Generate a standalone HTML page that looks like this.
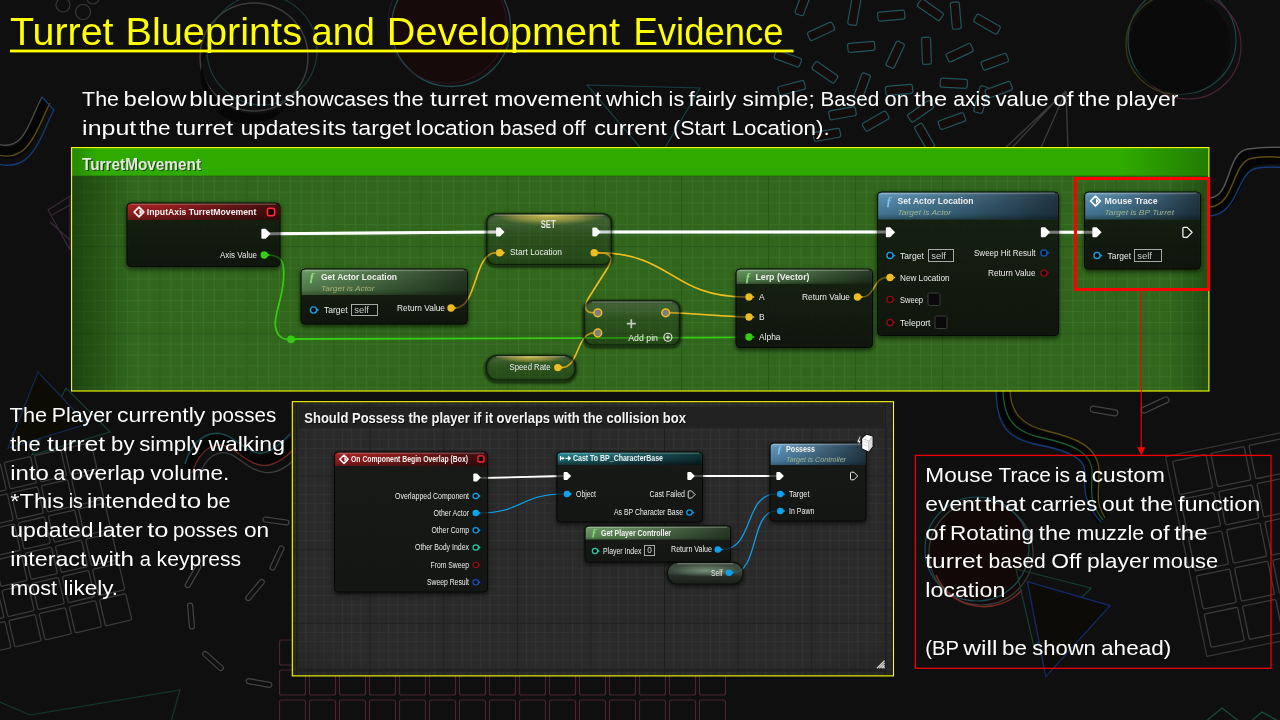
<!DOCTYPE html>
<html lang="en"><head><meta charset="utf-8"><title>Turret Blueprints and Development Evidence</title>
<style>html,body{margin:0;padding:0;background:#0f0f0f;overflow:hidden}svg{display:block;font-family:'Liberation Sans', sans-serif;opacity:0.999}</style>
</head><body>
<svg width="1280" height="720" viewBox="0 0 1280 720">
<defs>
<filter id="blur2" x="-20%" y="-20%" width="140%" height="140%"><feGaussianBlur stdDeviation="2"/></filter>
<filter id="blur1" x="-20%" y="-20%" width="140%" height="140%"><feGaussianBlur stdDeviation="0.8"/></filter>
<filter id="blur8" x="-20%" y="-20%" width="140%" height="140%"><feGaussianBlur stdDeviation="8"/></filter>
<pattern id="gridg" x="-14.44" y="158.96" width="10.867" height="10.867" patternUnits="userSpaceOnUse"><path d="M0.5,0 V10.867 M0,0.5 H10.867" stroke="#3a7128" stroke-width="1" fill="none"/></pattern>
<pattern id="gridG" x="-14.44" y="158.96" width="86.936" height="86.936" patternUnits="userSpaceOnUse"><path d="M0.5,0 V86.936 M0,0.5 H86.936" stroke="#29591a" stroke-width="1.3" fill="none"/></pattern>
<pattern id="gridd" x="296" y="402" width="9.2" height="9.2" patternUnits="userSpaceOnUse"><path d="M0.5,0 V9.2 M0,0.5 H9.2" stroke="#323232" stroke-width="1" fill="none"/></pattern>
<pattern id="gridD" x="296" y="402" width="73.6" height="73.6" patternUnits="userSpaceOnUse"><path d="M0.5,0 V73.6 M0,0.5 H73.6" stroke="#1e1e1e" stroke-width="1.2" fill="none"/></pattern>
<linearGradient id="hred" x1="0" y1="0" x2="0" y2="1"><stop offset="0" stop-color="#b02424" stop-opacity="1"/><stop offset="0.6" stop-color="#8e1b1d" stop-opacity="1"/><stop offset="1" stop-color="#6a1717" stop-opacity="0.95"/></linearGradient>
<linearGradient id="hred2" x1="0" y1="0" x2="0" y2="1"><stop offset="0" stop-color="#b02424" stop-opacity="1"/><stop offset="0.6" stop-color="#8e1b1d" stop-opacity="1"/><stop offset="1" stop-color="#6a1717" stop-opacity="0.95"/></linearGradient>
<linearGradient id="hgreen" x1="0" y1="0" x2="0" y2="1"><stop offset="0" stop-color="#86b47c" stop-opacity="0.97"/><stop offset="0.12" stop-color="#6a9a62" stop-opacity="0.95"/><stop offset="0.8" stop-color="#527e4c" stop-opacity="0.92"/><stop offset="1" stop-color="#3a5a32" stop-opacity="0.9"/></linearGradient>
<linearGradient id="hgreen2" x1="0" y1="0" x2="0" y2="1"><stop offset="0" stop-color="#86b47c" stop-opacity="0.97"/><stop offset="0.15" stop-color="#6a9862" stop-opacity="0.95"/><stop offset="0.8" stop-color="#4f7a49" stop-opacity="0.92"/><stop offset="1" stop-color="#36542f" stop-opacity="0.9"/></linearGradient>
<linearGradient id="hblue" x1="0" y1="0" x2="0" y2="1"><stop offset="0" stop-color="#7fb2d2" stop-opacity="0.97"/><stop offset="0.12" stop-color="#5f95b8" stop-opacity="0.96"/><stop offset="0.8" stop-color="#457a9a" stop-opacity="0.93"/><stop offset="1" stop-color="#2f5668" stop-opacity="0.9"/></linearGradient>
<linearGradient id="hblue2" x1="0" y1="0" x2="0" y2="1"><stop offset="0" stop-color="#7fb0d0" stop-opacity="0.97"/><stop offset="0.15" stop-color="#5e92b8" stop-opacity="0.96"/><stop offset="0.8" stop-color="#44769a" stop-opacity="0.93"/><stop offset="1" stop-color="#2c5068" stop-opacity="0.9"/></linearGradient>
<linearGradient id="hgreen3" x1="0" y1="0" x2="0" y2="1"><stop offset="0" stop-color="#8ab784" stop-opacity="1"/><stop offset="0.15" stop-color="#6f9a69" stop-opacity="1"/><stop offset="0.8" stop-color="#5a8455" stop-opacity="1"/><stop offset="1" stop-color="#466a42" stop-opacity="1"/></linearGradient>
<linearGradient id="hblue3" x1="0" y1="0" x2="0" y2="1"><stop offset="0" stop-color="#86b4d2" stop-opacity="1"/><stop offset="0.15" stop-color="#6396bb" stop-opacity="1"/><stop offset="0.8" stop-color="#4a7c9f" stop-opacity="1"/><stop offset="1" stop-color="#35607e" stop-opacity="1"/></linearGradient>
<linearGradient id="hteal" x1="0" y1="0" x2="0" y2="1"><stop offset="0" stop-color="#2b8f98" stop-opacity="1"/><stop offset="0.55" stop-color="#1d6a72" stop-opacity="1"/><stop offset="1" stop-color="#14383c" stop-opacity="0.9"/></linearGradient>
<linearGradient id="bodyg" x1="0" y1="0" x2="0" y2="1"><stop offset="0" stop-color="#151c14" stop-opacity="0.68"/><stop offset="1" stop-color="#0e100c" stop-opacity="0.82"/></linearGradient>
<linearGradient id="bodyd" x1="0" y1="0" x2="0" y2="1"><stop offset="0" stop-color="#171a17" stop-opacity="0.97"/><stop offset="1" stop-color="#141614" stop-opacity="0.97"/></linearGradient>
<linearGradient id="gloss" x1="0" y1="0" x2="0" y2="1"><stop offset="0" stop-color="#fff" stop-opacity="0.16"/><stop offset="0.45" stop-color="#fff" stop-opacity="0.03"/><stop offset="1" stop-color="#000" stop-opacity="0.08"/></linearGradient>
<linearGradient id="hfade" x1="0" y1="0" x2="1" y2="0"><stop offset="0" stop-color="#000" stop-opacity="0"/><stop offset="0.25" stop-color="#000" stop-opacity="0.12"/><stop offset="1" stop-color="#000" stop-opacity="0.62"/></linearGradient>
<linearGradient id="pillg" x1="0" y1="0" x2="0" y2="1"><stop offset="0" stop-color="#4f6f35" stop-opacity="0.95"/><stop offset="0.45" stop-color="#3d6228" stop-opacity="0.92"/><stop offset="1" stop-color="#2c4a1f" stop-opacity="0.95"/></linearGradient>
<linearGradient id="pilld" x1="0" y1="0" x2="0" y2="1"><stop offset="0" stop-color="#39433a" stop-opacity="1"/><stop offset="0.2" stop-color="#3f4c40" stop-opacity="1"/><stop offset="0.5" stop-color="#37433a" stop-opacity="1"/><stop offset="0.62" stop-color="#262d27" stop-opacity="1"/><stop offset="1" stop-color="#1a1f1a" stop-opacity="1"/></linearGradient>
<radialGradient id="glowy" cx="0.5" cy="0" r="0.5" gradientTransform="translate(0,0) scale(1,1)"><stop offset="0" stop-color="#e0cc54" stop-opacity="0.95"/><stop offset="0.6" stop-color="#d0ba48" stop-opacity="0.5"/><stop offset="1" stop-color="#c8b040" stop-opacity="0"/></radialGradient>
<radialGradient id="glowg" cx="0.5" cy="0" r="0.5"><stop offset="0" stop-color="#b8e0b0" stop-opacity="0.7"/><stop offset="1" stop-color="#b8e0b0" stop-opacity="0"/></radialGradient>
<radialGradient id="glowc" cx="0.5" cy="0.5" r="0.5"><stop offset="0" stop-color="#9fbf9c" stop-opacity="0.6"/><stop offset="0.6" stop-color="#8aa888" stop-opacity="0.3"/><stop offset="1" stop-color="#8aa888" stop-opacity="0"/></radialGradient>
<radialGradient id="vig" cx="0.5" cy="0.5" r="0.75"><stop offset="0.75" stop-color="#000" stop-opacity="0"/><stop offset="1" stop-color="#000" stop-opacity="0.35"/></radialGradient>
<linearGradient id="vigL" x1="0" y1="0" x2="1" y2="0"><stop offset="0" stop-color="#0a2a05" stop-opacity="0.55"/><stop offset="1" stop-color="#0a2a05" stop-opacity="0"/></linearGradient>
<linearGradient id="vigR" x1="0" y1="0" x2="1" y2="0"><stop offset="0" stop-color="#0a2a05" stop-opacity="0"/><stop offset="1" stop-color="#0a2a05" stop-opacity="0.45"/></linearGradient>
</defs>
<rect width="1280" height="720" fill="#0f0f0f"/>
<g id="decor" fill="none" stroke-width="1.2">
<circle cx="63" cy="5" r="7" stroke="#3a3a3a"/><circle cx="83" cy="12" r="7.5" stroke="#3a3a3a"/><circle cx="93" cy="-2" r="6" stroke="#333"/>
<circle cx="262" cy="50" r="55" stroke="#1b3a3a"/>
<circle cx="254" cy="57" r="54" stroke="#3c3c3c" stroke-width="1.5"/>
<path d="M204,45 A54,54 0 0 0 290,102 A48,48 0 0 1 209,48 z" fill="#060606" stroke="none"/>
<circle cx="451" cy="27" r="59.5" fill="#160a0a" stroke="#1d4d50" stroke-width="1.3"/>
<circle cx="447" cy="24" r="59.5" stroke="#2a1a2a" stroke-width="1"/>
<path d="M587,85 L700,88 L655,165 z" stroke="#164044"/>
<rect x="807.5" y="26.8" width="27" height="9" rx="2" transform="rotate(-25 821.0 31.2)" fill="#140b0b" stroke="#1f565c"/>
<rect x="840.7" y="7.2" width="27" height="9" rx="2" transform="rotate(-80 854.2 11.7)" fill="#140b0b" stroke="#1f565c"/>
<rect x="877.8" y="11.1" width="27" height="9" rx="2" transform="rotate(-5 891.3 15.6)" fill="#140b0b" stroke="#1f565c"/>
<rect x="916.9" y="5.3" width="27" height="9" rx="2" transform="rotate(35 930.4 9.8)" fill="#140b0b" stroke="#1f565c"/>
<rect x="942.3" y="11.1" width="27" height="9" rx="2" transform="rotate(85 955.8 15.6)" fill="#140b0b" stroke="#1f565c"/>
<rect x="973.5" y="19.7" width="27" height="9" rx="2" transform="rotate(30 987.0 24.2)" fill="#140b0b" stroke="#1f565c"/>
<rect x="847.8" y="42.4" width="27" height="9" rx="2" transform="rotate(-5 861.2 46.9)" fill="#140b0b" stroke="#1f565c"/>
<rect x="881.7" y="50.2" width="27" height="9" rx="2" transform="rotate(-65 895.2 54.7)" fill="#140b0b" stroke="#1f565c"/>
<rect x="913.0" y="46.3" width="27" height="9" rx="2" transform="rotate(88 926.5 50.8)" fill="#140b0b" stroke="#1f565c"/>
<rect x="946.2" y="48.2" width="27" height="9" rx="2" transform="rotate(-25 959.7 52.7)" fill="#140b0b" stroke="#1f565c"/>
<rect x="981.3" y="57.2" width="27" height="9" rx="2" transform="rotate(-20 994.8 61.7)" fill="#140b0b" stroke="#1f565c"/>
<rect x="811.4" y="67.8" width="27" height="9" rx="2" transform="rotate(35 824.9 72.3)" fill="#140b0b" stroke="#1f565c"/>
<rect x="848.5" y="82.2" width="27" height="9" rx="2" transform="rotate(-70 862.0 86.7)" fill="#140b0b" stroke="#1f565c"/>
<rect x="885.6" y="85.3" width="27" height="9" rx="2" transform="rotate(-5 899.1 89.8)" fill="#140b0b" stroke="#1f565c"/>
<rect x="940.3" y="78.7" width="27" height="9" rx="2" transform="rotate(3 953.8 83.2)" fill="#140b0b" stroke="#1f565c"/>
<rect x="778.2" y="83.4" width="27" height="9" rx="2" transform="rotate(-15 791.7 87.9)" fill="#140b0b" stroke="#1f565c"/>
<rect x="862.2" y="116.6" width="27" height="9" rx="2" transform="rotate(-30 875.7 121.1)" fill="#140b0b" stroke="#1f565c"/>
<rect x="907.1" y="106.8" width="27" height="9" rx="2" transform="rotate(-35 920.6 111.3)" fill="#140b0b" stroke="#1f565c"/>
<rect x="938.4" y="116.6" width="27" height="9" rx="2" transform="rotate(-20 951.9 121.1)" fill="#140b0b" stroke="#1f565c"/>
<rect x="967.7" y="95.1" width="27" height="9" rx="2" transform="rotate(-75 981.2 99.6)" fill="#140b0b" stroke="#1f565c"/>
<rect x="911.0" y="132.2" width="27" height="9" rx="2" transform="rotate(60 924.5 136.7)" fill="#140b0b" stroke="#1f565c"/>
<rect x="813.4" y="130.3" width="27" height="9" rx="2" transform="rotate(-10 826.9 134.8)" fill="#140b0b" stroke="#1f565c"/>
<rect x="789.9" y="-2.5" width="27" height="9" rx="2" transform="rotate(-70 803.4 2.0)" fill="#140b0b" stroke="#1f565c"/>
<rect x="774.3" y="54.1" width="27" height="9" rx="2" transform="rotate(20 787.8 58.6)" fill="#140b0b" stroke="#1f565c"/>
<rect x="985.2" y="85.3" width="27" height="9" rx="2" transform="rotate(-20 998.8 89.8)" fill="#140b0b" stroke="#1f565c"/>
<rect x="829.0" y="108.8" width="27" height="9" rx="2" transform="rotate(-10 842.5 113.3)" fill="#140b0b" stroke="#1f565c"/>
<path d="M1066,91 L1003,150 M1066,91 L1040,150 M1066,91 L1068,150 M1060,96 L1010,150" stroke="#3a3a3a" stroke-width="1.4"/>
<circle cx="1182" cy="40" r="54" stroke="#1b4a48"/><circle cx="1188" cy="46" r="53" stroke="#4a2236"/><circle cx="1176" cy="44" r="50" stroke="#3f3a12"/><circle cx="1180" cy="44" r="50" fill="#0a0a0a" stroke="none"/>
<path d="M1210,207 C1238,205 1232,160 1254,157 S1272,156 1284,155" stroke="#050505" stroke-width="17"/>
<path d="M1210,198 C1232,196 1226,152 1248,149 S1272,148 1284,147" stroke="#555" stroke-width="1.5"/>
<path d="M1210,207 C1236,205 1231,161 1253,158 S1272,158 1284,157" stroke="#5a4c12" stroke-width="1.5"/>
<path d="M1210,216 C1240,214 1236,170 1258,168 S1272,168 1284,167" stroke="#143a78" stroke-width="1.5"/>
<path d="M-5,150 C30,165 35,120 45,100" stroke="#050505" stroke-width="11"/>
<path d="M-5,143 C25,155 30,118 42,97" stroke="#4a4a4a" stroke-width="1.4"/><path d="M-5,154 C30,166 38,125 50,103" stroke="#5a4c12" stroke-width="1.4"/><path d="M-5,163 C35,176 42,130 54,110 L42,97" stroke="#143a78" stroke-width="1.4"/>
<path d="M48,210 L70,196 L70,250 z M52,215 L70,205 M50,222 L70,240" stroke="#3a2a3a"/>
<g transform="rotate(-13 60 540)" stroke="#3a3a3a" stroke-width="1.3">
<rect x="-70" y="452" width="27" height="27" rx="1.5"/>
<rect x="-39" y="452" width="27" height="27" rx="1.5"/>
<rect x="-8" y="452" width="27" height="27" rx="1.5"/>
<rect x="23" y="452" width="27" height="27" rx="1.5"/>
<rect x="54" y="452" width="27" height="27" rx="1.5"/>
<rect x="85" y="452" width="27" height="27" rx="1.5"/>
<rect x="-70" y="483" width="27" height="27" rx="1.5"/>
<rect x="-39" y="483" width="27" height="27" rx="1.5"/>
<rect x="-8" y="483" width="27" height="27" rx="1.5"/>
<rect x="23" y="483" width="27" height="27" rx="1.5"/>
<rect x="54" y="483" width="27" height="27" rx="1.5"/>
<rect x="85" y="483" width="27" height="27" rx="1.5"/>
<rect x="-70" y="514" width="27" height="27" rx="1.5"/>
<rect x="-39" y="514" width="27" height="27" rx="1.5"/>
<rect x="-8" y="514" width="27" height="27" rx="1.5"/>
<rect x="23" y="514" width="27" height="27" rx="1.5"/>
<rect x="54" y="514" width="27" height="27" rx="1.5"/>
<rect x="85" y="514" width="27" height="27" rx="1.5"/>
<rect x="-70" y="545" width="27" height="27" rx="1.5"/>
<rect x="-39" y="545" width="27" height="27" rx="1.5"/>
<rect x="-8" y="545" width="27" height="27" rx="1.5"/>
<rect x="23" y="545" width="27" height="27" rx="1.5"/>
<rect x="54" y="545" width="27" height="27" rx="1.5"/>
<rect x="85" y="545" width="27" height="27" rx="1.5"/>
<rect x="-70" y="576" width="27" height="27" rx="1.5"/>
<rect x="-39" y="576" width="27" height="27" rx="1.5"/>
<rect x="-8" y="576" width="27" height="27" rx="1.5"/>
<rect x="23" y="576" width="27" height="27" rx="1.5"/>
<rect x="54" y="576" width="27" height="27" rx="1.5"/>
<rect x="85" y="576" width="27" height="27" rx="1.5"/>
<rect x="-70" y="607" width="27" height="27" rx="1.5"/>
<rect x="-39" y="607" width="27" height="27" rx="1.5"/>
<rect x="-8" y="607" width="27" height="27" rx="1.5"/>
<rect x="23" y="607" width="27" height="27" rx="1.5"/>
<rect x="54" y="607" width="27" height="27" rx="1.5"/>
<rect x="85" y="607" width="27" height="27" rx="1.5"/>
</g>
<path d="M32,455 L66,388 L110,432 z" stroke="#15402e"/><path d="M8,448 L38,372 L87,424 z" stroke="#142a55" fill="#0c0c05"/>
<path d="M189,470 C196,445 214,432 234,446 S266,472 294,441" stroke="#060606" stroke-width="11"/>
<path d="M185,464 C192,439 212,425 233,439 S262,464 290,434" stroke="#174b50" stroke-width="1.4"/><path d="M192,473 C200,449 216,437 235,451 S268,477 297,446" stroke="#6a2620" stroke-width="1.4"/><path d="M197,480 C205,457 219,445 237,458 S272,485 300,454" stroke="#3c3c3c" stroke-width="1.3"/>
<rect x="263" y="518.5" width="26" height="5" rx="2.5" transform="rotate(8 276 521)" stroke="#444"/>
<rect x="264" y="555.5" width="26" height="5" rx="2.5" transform="rotate(-65 277 558)" stroke="#444"/>
<rect x="180" y="573.5" width="26" height="5" rx="2.5" transform="rotate(-60 193 576)" stroke="#444"/>
<rect x="178" y="613.5" width="26" height="5" rx="2.5" transform="rotate(85 191 616)" stroke="#444"/>
<rect x="200" y="658.5" width="26" height="5" rx="2.5" transform="rotate(42 213 661)" stroke="#444"/>
<rect x="246" y="680.5" width="26" height="5" rx="2.5" transform="rotate(10 259 683)" stroke="#444"/>
<rect x="242" y="587.5" width="26" height="5" rx="2.5" transform="rotate(-50 255 590)" stroke="#444"/>
<g stroke="#4a2430" stroke-width="1.2">
<rect x="279.5" y="640" width="26" height="25" rx="2"/>
<rect x="309.5" y="640" width="26" height="25" rx="2"/>
<rect x="339.5" y="640" width="26" height="25" rx="2"/>
<rect x="369.5" y="640" width="26" height="25" rx="2"/>
<rect x="399.5" y="640" width="26" height="25" rx="2"/>
<rect x="429.5" y="640" width="26" height="25" rx="2"/>
<rect x="459.5" y="640" width="26" height="25" rx="2"/>
<rect x="489.5" y="640" width="26" height="25" rx="2"/>
<rect x="519.5" y="640" width="26" height="25" rx="2"/>
<rect x="549.5" y="640" width="26" height="25" rx="2"/>
<rect x="579.5" y="640" width="26" height="25" rx="2"/>
<rect x="609.5" y="640" width="26" height="25" rx="2"/>
<rect x="639.5" y="640" width="26" height="25" rx="2"/>
<rect x="669.5" y="640" width="26" height="25" rx="2"/>
<rect x="699.5" y="640" width="26" height="25" rx="2"/>
<rect x="279.5" y="670" width="26" height="25" rx="2"/>
<rect x="309.5" y="670" width="26" height="25" rx="2"/>
<rect x="339.5" y="670" width="26" height="25" rx="2"/>
<rect x="369.5" y="670" width="26" height="25" rx="2"/>
<rect x="399.5" y="670" width="26" height="25" rx="2"/>
<rect x="429.5" y="670" width="26" height="25" rx="2"/>
<rect x="459.5" y="670" width="26" height="25" rx="2"/>
<rect x="489.5" y="670" width="26" height="25" rx="2"/>
<rect x="519.5" y="670" width="26" height="25" rx="2"/>
<rect x="549.5" y="670" width="26" height="25" rx="2"/>
<rect x="579.5" y="670" width="26" height="25" rx="2"/>
<rect x="609.5" y="670" width="26" height="25" rx="2"/>
<rect x="639.5" y="670" width="26" height="25" rx="2"/>
<rect x="669.5" y="670" width="26" height="25" rx="2"/>
<rect x="699.5" y="670" width="26" height="25" rx="2"/>
<rect x="279.5" y="700" width="26" height="25" rx="2"/>
<rect x="309.5" y="700" width="26" height="25" rx="2"/>
<rect x="339.5" y="700" width="26" height="25" rx="2"/>
<rect x="369.5" y="700" width="26" height="25" rx="2"/>
<rect x="399.5" y="700" width="26" height="25" rx="2"/>
<rect x="429.5" y="700" width="26" height="25" rx="2"/>
<rect x="459.5" y="700" width="26" height="25" rx="2"/>
<rect x="489.5" y="700" width="26" height="25" rx="2"/>
<rect x="519.5" y="700" width="26" height="25" rx="2"/>
<rect x="549.5" y="700" width="26" height="25" rx="2"/>
<rect x="579.5" y="700" width="26" height="25" rx="2"/>
<rect x="609.5" y="700" width="26" height="25" rx="2"/>
<rect x="639.5" y="700" width="26" height="25" rx="2"/>
<rect x="669.5" y="700" width="26" height="25" rx="2"/>
<rect x="699.5" y="700" width="26" height="25" rx="2"/>
</g>
<path d="M-5,700 L30,715 L180,690 L170,725" stroke="#123a2c"/>
<circle cx="981" cy="553" r="52" fill="#120808" stroke="#3a3a3a"/><circle cx="977" cy="549" r="52" stroke="#174b50"/><path d="M936,575 A52,52 0 0 0 1022,590" stroke="#7a2a22" stroke-width="1.5"/>
<path d="M1016,569 L1091,588 L1034,647 z" stroke="#15402e"/>
<path d="M1027.4,581.7 L1110,605.6 L1045.8,676.7 z" fill="#0c0b05" stroke="#152a6a" stroke-width="1.3"/>
<path d="M1003,388 C1003,420 1015,432 1043,438 S1092,452 1092,472 S1088,500 1103,520" stroke="#050505" stroke-width="13"/>
<path d="M996,388 C996,427 1008,439 1039,445 S1085,459 1085,472 S1081,500 1101,522" stroke="#143a78" stroke-width="1.3"/>
<path d="M1003,388 C1003,420 1015,432 1043,438 S1092,452 1092,472 S1088,500 1103,520" stroke="#1d5a30" stroke-width="1.3"/>
<path d="M1010,388 C1010,413 1022,425 1047,431 S1099,445 1099,472 S1095,500 1105,518" stroke="#5a4c12" stroke-width="1.3"/>
<g transform="rotate(-11.7 1169 459)" stroke="#3a3a3a" stroke-width="1.3">
<rect x="1172" y="462" width="34" height="34" rx="1.5"/>
<rect x="1211" y="462" width="34" height="34" rx="1.5"/>
<rect x="1250" y="462" width="34" height="34" rx="1.5"/>
<rect x="1289" y="462" width="34" height="34" rx="1.5"/>
<rect x="1328" y="462" width="34" height="34" rx="1.5"/>
<rect x="1172" y="501" width="34" height="34" rx="1.5"/>
<rect x="1211" y="501" width="34" height="34" rx="1.5"/>
<rect x="1250" y="501" width="34" height="34" rx="1.5"/>
<rect x="1289" y="501" width="34" height="34" rx="1.5"/>
<rect x="1328" y="501" width="34" height="34" rx="1.5"/>
<rect x="1172" y="540" width="34" height="34" rx="1.5"/>
<rect x="1211" y="540" width="34" height="34" rx="1.5"/>
<rect x="1250" y="540" width="34" height="34" rx="1.5"/>
<rect x="1289" y="540" width="34" height="34" rx="1.5"/>
<rect x="1328" y="540" width="34" height="34" rx="1.5"/>
<rect x="1172" y="579" width="34" height="34" rx="1.5"/>
<rect x="1211" y="579" width="34" height="34" rx="1.5"/>
<rect x="1250" y="579" width="34" height="34" rx="1.5"/>
<rect x="1289" y="579" width="34" height="34" rx="1.5"/>
<rect x="1328" y="579" width="34" height="34" rx="1.5"/>
<rect x="1172" y="618" width="34" height="34" rx="1.5"/>
<rect x="1211" y="618" width="34" height="34" rx="1.5"/>
<rect x="1250" y="618" width="34" height="34" rx="1.5"/>
<rect x="1289" y="618" width="34" height="34" rx="1.5"/>
<rect x="1328" y="618" width="34" height="34" rx="1.5"/>
<path d="M1166,456 H1340 M1166,456 V660 H1340" stroke="#333"/>
</g>
<rect x="1090" y="408" width="28" height="6" rx="3" transform="rotate(10 1104 411)" stroke="#444"/><rect x="1140" y="402" width="30" height="6" rx="3" transform="rotate(-25 1155 405)" stroke="#444"/>
<path d="M1205,722 L1222,708 L1240,722 M1250,722 L1262,712 L1280,722" stroke="#14503c"/>
</g>
<g id="title">
<text y="45.2" font-size="38.5" fill="#ffff00"><tspan x="10.0" textLength="103.5" lengthAdjust="spacingAndGlyphs">Turret</tspan> <tspan x="125.5" textLength="176.5" lengthAdjust="spacingAndGlyphs">Blueprints</tspan> <tspan x="311.5" textLength="63.5" lengthAdjust="spacingAndGlyphs">and</tspan> <tspan x="386.8" textLength="233.2" lengthAdjust="spacingAndGlyphs">Development</tspan> <tspan x="633.5" textLength="150.0" lengthAdjust="spacingAndGlyphs">Evidence</tspan></text>
<rect x="10" y="49.6" width="783.5" height="2.8" fill="#ffff00"/>
</g>
<g id="intro">
<text y="106.3" font-size="19.3" fill="#fff"><tspan x="82.1" textLength="36.9" lengthAdjust="spacingAndGlyphs">The</tspan> <tspan x="123.6" textLength="62.6" lengthAdjust="spacingAndGlyphs">below</tspan> <tspan x="189.2" textLength="92.3" lengthAdjust="spacingAndGlyphs">blueprint</tspan> <tspan x="284.6" textLength="104.1" lengthAdjust="spacingAndGlyphs">showcases</tspan> <tspan x="393.3" textLength="30.4" lengthAdjust="spacingAndGlyphs">the</tspan> <tspan x="430.0" textLength="58.0" lengthAdjust="spacingAndGlyphs">turret</tspan> <tspan x="494.2" textLength="107.2" lengthAdjust="spacingAndGlyphs">movement</tspan> <tspan x="606.1" textLength="56.9" lengthAdjust="spacingAndGlyphs">which</tspan> <tspan x="668.6" textLength="15.6" lengthAdjust="spacingAndGlyphs">is</tspan> <tspan x="688.6" textLength="47.8" lengthAdjust="spacingAndGlyphs">fairly</tspan> <tspan x="742.6" textLength="72.2" lengthAdjust="spacingAndGlyphs">simple;</tspan> <tspan x="820.5" textLength="58.7" lengthAdjust="spacingAndGlyphs">Based</tspan> <tspan x="884.5" textLength="24.4" lengthAdjust="spacingAndGlyphs">on</tspan> <tspan x="914.2" textLength="32.9" lengthAdjust="spacingAndGlyphs">the</tspan> <tspan x="953.2" textLength="37.6" lengthAdjust="spacingAndGlyphs">axis</tspan> <tspan x="995.5" textLength="53.1" lengthAdjust="spacingAndGlyphs">value</tspan> <tspan x="1053.2" textLength="20.4" lengthAdjust="spacingAndGlyphs">of</tspan> <tspan x="1078.2" textLength="32.0" lengthAdjust="spacingAndGlyphs">the</tspan> <tspan x="1115.8" textLength="62.5" lengthAdjust="spacingAndGlyphs">player</tspan></text>
<text y="135.0" font-size="19.3" fill="#fff"><tspan x="82.1" textLength="54.1" lengthAdjust="spacingAndGlyphs">input</tspan> <tspan x="139.2" textLength="31.4" lengthAdjust="spacingAndGlyphs">the</tspan> <tspan x="175.8" textLength="57.3" lengthAdjust="spacingAndGlyphs">turret</tspan> <tspan x="240.8" textLength="79.8" lengthAdjust="spacingAndGlyphs">updates</tspan> <tspan x="322.1" textLength="24.1" lengthAdjust="spacingAndGlyphs">its</tspan> <tspan x="351.8" textLength="59.4" lengthAdjust="spacingAndGlyphs">target</tspan> <tspan x="415.8" textLength="79.0" lengthAdjust="spacingAndGlyphs">location</tspan> <tspan x="499.8" textLength="57.0" lengthAdjust="spacingAndGlyphs">based</tspan> <tspan x="562.2" textLength="23.6" lengthAdjust="spacingAndGlyphs">off</tspan> <tspan x="594.2" textLength="72.6" lengthAdjust="spacingAndGlyphs">current</tspan> <tspan x="673.0" textLength="52.5" lengthAdjust="spacingAndGlyphs">(Start</tspan> <tspan x="731.7" textLength="97.9" lengthAdjust="spacingAndGlyphs">Location).</tspan></text>
</g>
<g id="bp1">
<rect x="71.5" y="147.5" width="1137.5" height="243.5" fill="#31661c"/>
<rect x="72" y="176" width="1136.5" height="215" fill="url(#gridg)"/>
<rect x="72" y="176" width="1136.5" height="215" fill="url(#gridG)"/>
<rect x="72" y="176" width="60" height="215" fill="url(#vigL)"/>
<rect x="1170" y="176" width="38.5" height="215" fill="url(#vigR)" opacity="0.8"/>
<rect x="72" y="148" width="1136.5" height="28" fill="#2fab00"/>
<rect x="1120" y="148" width="88.5" height="28" fill="url(#vigR)" opacity="0.8"/>
<rect x="72" y="148" width="25" height="28" fill="url(#vigL)" opacity="0.5"/>
<rect x="72" y="175" width="1136.5" height="2" fill="#1f5a0c" opacity="0.35"/>
<text x="83.2" y="171.2" font-size="17" font-weight="bold" textLength="119.0" lengthAdjust="spacingAndGlyphs" fill="#0b2a00" opacity="0.7">TurretMovement</text>
<text x="82.0" y="170.0" font-size="17" font-weight="bold" textLength="119.0" lengthAdjust="spacingAndGlyphs" fill="#e6e6e6">TurretMovement</text>
<path d="M270,233.8 L498,232.1" fill="none" stroke="#fff" stroke-width="3" stroke-linecap="round"/>
<path d="M600,232.1 H888" fill="none" stroke="#fff" stroke-width="3" stroke-linecap="round"/>
<path d="M1049,232.3 H1094" fill="none" stroke="#fff" stroke-width="3" stroke-linecap="round"/>
<path d="M268,255 C284,255 284.5,266 283.5,280 C282,300 273.5,316 275.5,327 C277.5,338 284,339.5 291,339.5" fill="none" stroke="#36cc14" stroke-width="1.6" stroke-linecap="round"/>
<path d="M291,339 C400,338.6 600,338.2 745,337.4" fill="none" stroke="#36cc14" stroke-width="1.8"/>
<path d="M455.0,308.0 C477.6,308.0 473.4,252.8 496.0,252.8" fill="none" stroke="#edbd22" stroke-width="1.5" stroke-linecap="round"/>
<path d="M598.0,252.8 C671.5,252.8 671.5,297.0 745.0,297.0" fill="none" stroke="#edbd22" stroke-width="1.6" stroke-linecap="round"/>
<path d="M598,252.8 C616,252.8 611.5,262 606,270.5 L589.5,296.5 C582.5,307.5 585,312.8 594,312.8" fill="none" stroke="#edbd22" stroke-width="1.5" stroke-linecap="round"/>
<path d="M561.5,367.6 C579.4,367.6 576.1,333.0 594.0,333.0" fill="none" stroke="#edbd22" stroke-width="1.5" stroke-linecap="round"/>
<path d="M670,312.8 C700,313.5 720,316.5 745,317" fill="none" stroke="#edbd22" stroke-width="1.6" stroke-linecap="round"/>
<path d="M861.5,297.0 C875.5,297.0 873.0,277.5 887.0,277.5" fill="none" stroke="#edbd22" stroke-width="1.5" stroke-linecap="round"/>
<rect x="126.0" y="203.5" width="155.0" height="66.0" rx="5" fill="#000" opacity="0.55" filter="url(#blur2)"/>
<rect x="127.0" y="203.0" width="153.0" height="63.5" rx="4" fill="url(#bodyg)" stroke="#050805" stroke-width="1"/>
<path d="M127.7,220.0 V207.0 q0,-3.3 3.3,-3.3 H276.0 q3.3,0 3.3,3.3 V220.0 z" fill="url(#hred)"/>
<path d="M127.7,220.0 V207.0 q0,-3.3 3.3,-3.3 H276.0 q3.3,0 3.3,3.3 V220.0 z" fill="url(#hfade)"/>
<path d="M131.0,204.2 H276.0" stroke="#fff" stroke-opacity="0.28" stroke-width="1"/>
<rect x="300.0" y="269.5" width="168.5" height="57.5" rx="5" fill="#000" opacity="0.55" filter="url(#blur2)"/>
<rect x="301.0" y="269.0" width="166.5" height="55.0" rx="4" fill="url(#bodyg)" stroke="#050805" stroke-width="1"/>
<path d="M301.7,295.0 V273.0 q0,-3.3 3.3,-3.3 H463.5 q3.3,0 3.3,3.3 V295.0 z" fill="url(#hgreen)"/>
<path d="M301.7,295.0 V273.0 q0,-3.3 3.3,-3.3 H463.5 q3.3,0 3.3,3.3 V295.0 z" fill="url(#hfade)"/>
<path d="M305.0,270.2 H463.5" stroke="#fff" stroke-opacity="0.28" stroke-width="1"/>
<rect x="486.3" y="214.4" width="125.6" height="52.2" rx="9.0" fill="none" stroke="#000" stroke-opacity="0.6" stroke-width="3" filter="url(#blur1)"/>
<rect x="486.8" y="213.9" width="124.6" height="50.7" rx="8.5" fill="#000" fill-opacity="0.28" stroke="#0d1f08" stroke-width="1.1"/>
<rect x="487.4" y="214.5" width="123.4" height="49.5" rx="8.0" fill="url(#gloss)"/>
<rect x="494.0" y="214.7" width="110.0" height="22" fill="url(#glowy)"/>
<path d="M494.3,215.1 H603.9" stroke="#fff" stroke-opacity="0.32" stroke-width="1"/>
<rect x="485.8" y="356.0" width="89.9" height="26.0" rx="11.5" fill="none" stroke="#000" stroke-opacity="0.6" stroke-width="3" filter="url(#blur1)"/>
<rect x="486.3" y="355.5" width="88.9" height="24.5" rx="11" fill="#000" fill-opacity="0.25" stroke="#0d1f08" stroke-width="1.1"/>
<rect x="486.9" y="356.1" width="87.7" height="23.3" rx="10.5" fill="url(#gloss)"/>
<rect x="494.0" y="356.3" width="73.0" height="13" fill="url(#glowy)"/>
<path d="M496.3,356.7 H565.2" stroke="#fff" stroke-opacity="0.32" stroke-width="1"/>
<rect x="583.7" y="301.3" width="96.6" height="45.7" rx="9.0" fill="none" stroke="#000" stroke-opacity="0.6" stroke-width="3" filter="url(#blur1)"/>
<rect x="584.2" y="300.8" width="95.6" height="44.2" rx="8.5" fill="#000" fill-opacity="0.27" stroke="#0d1f08" stroke-width="1.1"/>
<rect x="584.8" y="301.4" width="94.4" height="43.0" rx="8.0" fill="url(#gloss)"/>
<path d="M591.7,302.0 H672.3" stroke="#fff" stroke-opacity="0.32" stroke-width="1"/>
<rect x="735.0" y="269.5" width="138.5" height="81.0" rx="5" fill="#000" opacity="0.55" filter="url(#blur2)"/>
<rect x="736.0" y="269.0" width="136.5" height="78.5" rx="4" fill="url(#bodyg)" stroke="#050805" stroke-width="1"/>
<path d="M736.7,284.0 V273.0 q0,-3.3 3.3,-3.3 H868.5 q3.3,0 3.3,3.3 V284.0 z" fill="url(#hgreen2)"/>
<path d="M736.7,284.0 V273.0 q0,-3.3 3.3,-3.3 H868.5 q3.3,0 3.3,3.3 V284.0 z" fill="url(#hfade)"/>
<path d="M740.0,270.2 H868.5" stroke="#fff" stroke-opacity="0.28" stroke-width="1"/>
<rect x="876.5" y="192.5" width="183.0" height="146.0" rx="5" fill="#000" opacity="0.55" filter="url(#blur2)"/>
<rect x="877.5" y="192.0" width="181.0" height="143.5" rx="4" fill="url(#bodyg)" stroke="#050805" stroke-width="1"/>
<path d="M878.2,219.5 V196.0 q0,-3.3 3.3,-3.3 H1054.5 q3.3,0 3.3,3.3 V219.5 z" fill="url(#hblue)"/>
<path d="M878.2,219.5 V196.0 q0,-3.3 3.3,-3.3 H1054.5 q3.3,0 3.3,3.3 V219.5 z" fill="url(#hfade)"/>
<path d="M881.5,193.2 H1054.5" stroke="#fff" stroke-opacity="0.28" stroke-width="1"/>
<rect x="1083.5" y="192.5" width="118.0" height="79.5" rx="5" fill="#000" opacity="0.55" filter="url(#blur2)"/>
<rect x="1084.5" y="192.0" width="116.0" height="77.0" rx="4" fill="url(#bodyg)" stroke="#050805" stroke-width="1"/>
<path d="M1085.2,219.5 V196.0 q0,-3.3 3.3,-3.3 H1196.5 q3.3,0 3.3,3.3 V219.5 z" fill="url(#hblue)"/>
<path d="M1085.2,219.5 V196.0 q0,-3.3 3.3,-3.3 H1196.5 q3.3,0 3.3,3.3 V219.5 z" fill="url(#hfade)"/>
<path d="M1088.5,193.2 H1196.5" stroke="#fff" stroke-opacity="0.28" stroke-width="1"/>
<path d="M270,233.8 L498,232.1" fill="none" stroke="#fff" stroke-opacity="0.35" stroke-width="3" stroke-linecap="round"/>
<path d="M600,232.1 H888" fill="none" stroke="#fff" stroke-opacity="0.35" stroke-width="3" stroke-linecap="round"/>
<path d="M1049,232.3 H1094" fill="none" stroke="#fff" stroke-opacity="0.35" stroke-width="3" stroke-linecap="round"/>
<path d="M268,255 C284,255 284.5,266 283.5,280 C282,300 273.5,316 275.5,327 C277.5,338 284,339.5 291,339.5" fill="none" stroke="#36cc14" stroke-opacity="0.35" stroke-width="1.6" stroke-linecap="round"/>
<path d="M455.0,308.0 C477.6,308.0 473.4,252.8 496.0,252.8" fill="none" stroke="#edbd22" stroke-opacity="0.35" stroke-width="1.5" stroke-linecap="round"/>
<path d="M598.0,252.8 C671.5,252.8 671.5,297.0 745.0,297.0" fill="none" stroke="#edbd22" stroke-opacity="0.35" stroke-width="1.6" stroke-linecap="round"/>
<path d="M598,252.8 C616,252.8 611.5,262 606,270.5 L589.5,296.5 C582.5,307.5 585,312.8 594,312.8" fill="none" stroke="#edbd22" stroke-opacity="0.35" stroke-width="1.5" stroke-linecap="round"/>
<path d="M561.5,367.6 C579.4,367.6 576.1,333.0 594.0,333.0" fill="none" stroke="#edbd22" stroke-opacity="0.35" stroke-width="1.5" stroke-linecap="round"/>
<path d="M670,312.8 C700,313.5 720,316.5 745,317" fill="none" stroke="#edbd22" stroke-opacity="0.35" stroke-width="1.6" stroke-linecap="round"/>
<path d="M861.5,297.0 C875.5,297.0 873.0,277.5 887.0,277.5" fill="none" stroke="#edbd22" stroke-opacity="0.35" stroke-width="1.5" stroke-linecap="round"/>
<circle cx="291" cy="339.3" r="3.9" fill="#36cc14"/>
<path d="M294,337.4 l3,1.9 l-3,1.9z" fill="#36cc14"/>
<path d="M134.1,212.0 L139.0,207.1 L143.9,212.0 L139.0,216.9 z" fill="none" stroke="#fff" stroke-width="1.70" stroke-linejoin="round"/>
<path d="M139.5,209.4 L142.4,212.0 L139.5,214.6 z" fill="#fff"/>
<text x="146.8" y="215.3" font-size="9.5" font-weight="bold" textLength="109.5" lengthAdjust="spacingAndGlyphs" fill="#f2f2f2">InputAxis TurretMovement</text>
<rect x="267.4" y="208.4" width="7.2" height="7.2" rx="1.5" fill="#120000" stroke="#ff2b3a" stroke-width="1.60"/>
<path d="M261.4,229.8 q0,-1 1,-1 h3.2 l5.0,5.0 l-5.0,5.0 h-3.2 q-1,0 -1,-1 z" fill="#fff"/>
<text x="257.0" y="258.0" font-size="8.4" text-anchor="end" textLength="37.0" lengthAdjust="spacingAndGlyphs" fill="#eee">Axis Value</text>
<path d="M267.6,253.4 l2.3,1.6 l-2.3,1.6 z" fill="#36cc14"/>
<circle cx="264.3" cy="255.0" r="3.7" fill="#36cc14"/>
<text x="312.0" y="280.6" font-size="12" font-style="italic" font-weight="bold" font-family="'Liberation Serif', serif" text-anchor="middle" fill="#8fe07a">ƒ</text>
<text x="321.0" y="279.6" font-size="9.5" font-weight="bold" textLength="76.0" lengthAdjust="spacingAndGlyphs" fill="#f0f0f0">Get Actor Location</text>
<text x="321.0" y="291.3" font-size="7.7" font-style="italic" textLength="53.5" lengthAdjust="spacingAndGlyphs" fill="#a9b072">Target is Actor</text>
<path d="M316.8,308.4 l2.3,1.6 l-2.3,1.6 z" fill="#1b9fe0"/>
<circle cx="313.5" cy="310.0" r="3.1" fill="#0c0c0c" stroke="#1b9fe0" stroke-width="1.40"/>
<text x="324.0" y="313.0" font-size="8.4" textLength="23.5" lengthAdjust="spacingAndGlyphs" fill="#eee">Target</text>
<rect x="351.5" y="304.5" width="26.0" height="11.0" fill="#0e120e" fill-opacity="0.5" stroke="#a8a8a8" stroke-width="1"/>
<text x="354.2" y="312.8" font-size="9.5" fill="#c8c8c8">self</text>
<text x="445.0" y="311.0" font-size="8.4" text-anchor="end" textLength="48.0" lengthAdjust="spacingAndGlyphs" fill="#eee">Return Value</text>
<path d="M454.3,306.4 l2.3,1.6 l-2.3,1.6 z" fill="#edbd22"/>
<circle cx="451.0" cy="308.0" r="3.7" fill="#edbd22"/>
<text x="548.2" y="227.8" font-size="10" font-weight="bold" text-anchor="middle" textLength="15.0" lengthAdjust="spacingAndGlyphs" fill="#e4e4dc">SET</text>
<path d="M496.1,228.6 q0,-1 1,-1 h2.9 l4.5,4.5 l-4.5,4.5 h-2.9 q-1,0 -1,-1 z" fill="#fff"/>
<path d="M592.4,228.6 q0,-1 1,-1 h2.9 l4.5,4.5 l-4.5,4.5 h-2.9 q-1,0 -1,-1 z" fill="#fff"/>
<path d="M502.9,251.2 l2.3,1.6 l-2.3,1.6 z" fill="#edbd22"/>
<circle cx="499.6" cy="252.8" r="3.7" fill="#edbd22"/>
<text x="510.0" y="255.0" font-size="8.3" textLength="52.0" lengthAdjust="spacingAndGlyphs" fill="#eee">Start Location</text>
<path d="M597.5,251.2 l2.3,1.6 l-2.3,1.6 z" fill="#edbd22"/>
<circle cx="594.2" cy="252.8" r="3.7" fill="#edbd22"/>
<text x="550.5" y="370.2" font-size="8.3" text-anchor="end" textLength="41.0" lengthAdjust="spacingAndGlyphs" fill="#eee">Speed Rate</text>
<path d="M561.1,366.0 l2.3,1.6 l-2.3,1.6 z" fill="#edbd22"/>
<circle cx="557.8" cy="367.6" r="3.7" fill="#edbd22"/>
<circle cx="597.8" cy="312.8" r="3.9" fill="#807c80" stroke="#edbd22" stroke-width="1.5"/>
<circle cx="597.8" cy="333" r="3.9" fill="#807c80" stroke="#edbd22" stroke-width="1.5"/>
<circle cx="665.7" cy="312.8" r="3.9" fill="#807c80" stroke="#edbd22" stroke-width="1.5"/>
<path d="M626.8,323.7 H635.8 M631.3,319.2 V328.2" stroke="#c4ccbc" stroke-width="1.7"/>
<text x="628.2" y="340.5" font-size="9" textLength="29.8" lengthAdjust="spacingAndGlyphs" fill="#eee">Add pin</text>
<circle cx="667.9" cy="337.2" r="4" fill="none" stroke="#eee" stroke-width="1.1"/><path d="M665.9,337.2 h4 M667.9,335.2 v4" stroke="#eee" stroke-width="1.1"/>
<text x="748.0" y="280.6" font-size="12" font-style="italic" font-weight="bold" font-family="'Liberation Serif', serif" text-anchor="middle" fill="#8fe07a">ƒ</text>
<text x="755.5" y="279.6" font-size="9.5" font-weight="bold" textLength="54.0" lengthAdjust="spacingAndGlyphs" fill="#f0f0f0">Lerp (Vector)</text>
<path d="M752.3,295.4 l2.3,1.6 l-2.3,1.6 z" fill="#edbd22"/>
<circle cx="749.0" cy="297.0" r="3.7" fill="#edbd22"/>
<text x="759.0" y="300.0" font-size="8.4" fill="#eee">A</text>
<path d="M752.3,315.4 l2.3,1.6 l-2.3,1.6 z" fill="#edbd22"/>
<circle cx="749.0" cy="317.0" r="3.7" fill="#edbd22"/>
<text x="759.0" y="320.0" font-size="8.4" fill="#eee">B</text>
<path d="M752.3,335.4 l2.3,1.6 l-2.3,1.6 z" fill="#36cc14"/>
<circle cx="749.0" cy="337.0" r="3.7" fill="#36cc14"/>
<text x="759.0" y="340.0" font-size="8.4" textLength="21.5" lengthAdjust="spacingAndGlyphs" fill="#eee">Alpha</text>
<text x="850.0" y="300.0" font-size="8.4" text-anchor="end" textLength="48.0" lengthAdjust="spacingAndGlyphs" fill="#eee">Return Value</text>
<path d="M860.8,295.4 l2.3,1.6 l-2.3,1.6 z" fill="#edbd22"/>
<circle cx="857.5" cy="297.0" r="3.7" fill="#edbd22"/>
<text x="889.0" y="204.6" font-size="12" font-style="italic" font-weight="bold" font-family="'Liberation Serif', serif" text-anchor="middle" fill="#7cc4f0">ƒ</text>
<text x="897.5" y="203.6" font-size="9.5" font-weight="bold" textLength="76.0" lengthAdjust="spacingAndGlyphs" fill="#f0f0f0">Set Actor Location</text>
<text x="897.5" y="215.3" font-size="7.7" font-style="italic" textLength="53.5" lengthAdjust="spacingAndGlyphs" fill="#9fb38a">Target is Actor</text>
<path d="M885.9,228.3 q0,-1 1,-1 h3.2 l5.0,5.0 l-5.0,5.0 h-3.2 q-1,0 -1,-1 z" fill="#fff"/>
<path d="M1040.9,228.3 q0,-1 1,-1 h3.2 l5.0,5.0 l-5.0,5.0 h-3.2 q-1,0 -1,-1 z" fill="#fff"/>
<path d="M893.3,253.9 l2.3,1.6 l-2.3,1.6 z" fill="#1b9fe0"/>
<circle cx="890.0" cy="255.5" r="3.1" fill="#0c0c0c" stroke="#1b9fe0" stroke-width="1.40"/>
<text x="900.0" y="258.5" font-size="8.4" textLength="23.8" lengthAdjust="spacingAndGlyphs" fill="#eee">Target</text>
<rect x="928.5" y="249.5" width="25.0" height="12.0" fill="#0e120e" fill-opacity="0.5" stroke="#a8a8a8" stroke-width="1"/>
<text x="931.2" y="258.8" font-size="9.5" fill="#c8c8c8">self</text>
<path d="M893.3,275.9 l2.3,1.6 l-2.3,1.6 z" fill="#edbd22"/>
<circle cx="890.0" cy="277.5" r="3.7" fill="#edbd22"/>
<text x="900.0" y="280.5" font-size="8.4" textLength="49.5" lengthAdjust="spacingAndGlyphs" fill="#eee">New Location</text>
<path d="M893.3,297.9 l2.3,1.6 l-2.3,1.6 z" fill="#8f0d0d"/>
<circle cx="890.0" cy="299.5" r="3.1" fill="#0c0c0c" stroke="#8f0d0d" stroke-width="1.40"/>
<text x="900.0" y="302.5" font-size="8.4" textLength="23.0" lengthAdjust="spacingAndGlyphs" fill="#eee">Sweep</text>
<rect x="928.0" y="293.0" width="12.0" height="12.5" rx="1.5" fill="#0a0a0a" stroke="#3a3f3a" stroke-width="1"/>
<path d="M893.3,320.9 l2.3,1.6 l-2.3,1.6 z" fill="#8f0d0d"/>
<circle cx="890.0" cy="322.5" r="3.1" fill="#0c0c0c" stroke="#8f0d0d" stroke-width="1.40"/>
<text x="900.0" y="325.5" font-size="8.4" textLength="30.5" lengthAdjust="spacingAndGlyphs" fill="#eee">Teleport</text>
<rect x="935.0" y="316.0" width="12.0" height="12.5" rx="1.5" fill="#0a0a0a" stroke="#3a3f3a" stroke-width="1"/>
<text x="1035.5" y="256.0" font-size="8.4" text-anchor="end" textLength="61.5" lengthAdjust="spacingAndGlyphs" fill="#eee">Sweep Hit Result</text>
<path d="M1047.3,251.4 l2.3,1.6 l-2.3,1.6 z" fill="#1553c4"/>
<circle cx="1044.0" cy="253.0" r="3.1" fill="#0c0c0c" stroke="#1553c4" stroke-width="1.40"/>
<text x="1035.5" y="276.0" font-size="8.4" text-anchor="end" textLength="47.5" lengthAdjust="spacingAndGlyphs" fill="#eee">Return Value</text>
<path d="M1047.3,271.4 l2.3,1.6 l-2.3,1.6 z" fill="#8f0d0d"/>
<circle cx="1044.0" cy="273.0" r="3.1" fill="#0c0c0c" stroke="#8f0d0d" stroke-width="1.40"/>
<path d="M1090.6,201.0 L1095.5,196.1 L1100.4,201.0 L1095.5,205.9 z" fill="none" stroke="#fff" stroke-width="1.70" stroke-linejoin="round"/>
<path d="M1096.0,198.4 L1098.9,201.0 L1096.0,203.6 z" fill="#fff"/>
<text x="1104.5" y="203.6" font-size="9.5" font-weight="bold" textLength="53.0" lengthAdjust="spacingAndGlyphs" fill="#f0f0f0">Mouse Trace</text>
<text x="1104.5" y="215.3" font-size="7.7" font-style="italic" textLength="69.5" lengthAdjust="spacingAndGlyphs" fill="#9fb38a">Target is BP Turret</text>
<path d="M1092.4,228.3 q0,-1 1,-1 h3.2 l5.0,5.0 l-5.0,5.0 h-3.2 q-1,0 -1,-1 z" fill="#fff"/>
<path d="M1182.9,228.3 q0,-1 1,-1 h3.2 l5.0,5.0 l-5.0,5.0 h-3.2 q-1,0 -1,-1 z" fill="none" stroke="#fff" stroke-width="1.20"/>
<path d="M1100.3,253.9 l2.3,1.6 l-2.3,1.6 z" fill="#1b9fe0"/>
<circle cx="1097.0" cy="255.5" r="3.1" fill="#0c0c0c" stroke="#1b9fe0" stroke-width="1.40"/>
<text x="1107.5" y="258.5" font-size="8.4" textLength="23.5" lengthAdjust="spacingAndGlyphs" fill="#eee">Target</text>
<rect x="1134.5" y="249.5" width="27.0" height="12.0" fill="#0e120e" fill-opacity="0.5" stroke="#a8a8a8" stroke-width="1"/>
<text x="1137.2" y="258.8" font-size="9.5" fill="#c8c8c8">self</text>
<rect x="71.6" y="147.6" width="1137.3" height="243.4" fill="none" stroke="#ffff00" stroke-width="1.1"/>
<rect x="1075.4" y="178.5" width="133.2" height="111" fill="none" stroke="#ff0000" stroke-width="3"/>
</g>
<g id="arrow"><path d="M1141.3,291 V449" stroke="#ff0000" stroke-width="1.1"/><path d="M1137.2,447.3 h8 l-4,8 z" fill="#ff0000"/></g>
<g id="lefttext">
<text y="422.1" font-size="20.8" fill="#fff"><tspan x="9.6" textLength="37.5" lengthAdjust="spacingAndGlyphs">The</tspan> <tspan x="51.8" textLength="60.4" lengthAdjust="spacingAndGlyphs">Player</tspan> <tspan x="117.0" textLength="88.3" lengthAdjust="spacingAndGlyphs">currently</tspan> <tspan x="211.2" textLength="65.1" lengthAdjust="spacingAndGlyphs">posses</tspan></text>
<text y="450.9" font-size="20.8" fill="#fff"><tspan x="10.3" textLength="30.4" lengthAdjust="spacingAndGlyphs">the</tspan> <tspan x="47.1" textLength="58.1" lengthAdjust="spacingAndGlyphs">turret</tspan> <tspan x="111.1" textLength="23.4" lengthAdjust="spacingAndGlyphs">by</tspan> <tspan x="139.2" textLength="63.2" lengthAdjust="spacingAndGlyphs">simply</tspan> <tspan x="208.4" textLength="76.5" lengthAdjust="spacingAndGlyphs">walking</tspan></text>
<text y="479.6" font-size="20.8" fill="#fff"><tspan x="10.3" textLength="38.6" lengthAdjust="spacingAndGlyphs">into</tspan> <tspan x="53.5" textLength="11.8" lengthAdjust="spacingAndGlyphs">a</tspan> <tspan x="70.6" textLength="74.4" lengthAdjust="spacingAndGlyphs">overlap</tspan> <tspan x="150.3" textLength="79.1" lengthAdjust="spacingAndGlyphs">volume.</tspan></text>
<text y="508.4" font-size="20.8" fill="#fff"><tspan x="10.3" textLength="53.9" lengthAdjust="spacingAndGlyphs">*This</tspan> <tspan x="68.7" textLength="14.2" lengthAdjust="spacingAndGlyphs">is</tspan> <tspan x="87.0" textLength="89.7" lengthAdjust="spacingAndGlyphs">intended</tspan> <tspan x="179.6" textLength="21.7" lengthAdjust="spacingAndGlyphs">to</tspan> <tspan x="206.5" textLength="24.1" lengthAdjust="spacingAndGlyphs">be</tspan></text>
<text y="537.1" font-size="20.8" fill="#fff"><tspan x="10.3" textLength="83.2" lengthAdjust="spacingAndGlyphs">updated</tspan> <tspan x="97.5" textLength="45.2" lengthAdjust="spacingAndGlyphs">later</tspan> <tspan x="147.2" textLength="21.3" lengthAdjust="spacingAndGlyphs">to</tspan> <tspan x="173.0" textLength="64.6" lengthAdjust="spacingAndGlyphs">posses</tspan> <tspan x="244.0" textLength="25.2" lengthAdjust="spacingAndGlyphs">on</tspan></text>
<text y="565.9" font-size="20.8" fill="#fff"><tspan x="10.3" textLength="76.1" lengthAdjust="spacingAndGlyphs">interact</tspan> <tspan x="91.0" textLength="43.0" lengthAdjust="spacingAndGlyphs">with</tspan> <tspan x="139.7" textLength="11.2" lengthAdjust="spacingAndGlyphs">a</tspan> <tspan x="156.6" textLength="84.5" lengthAdjust="spacingAndGlyphs">keypress</tspan></text>
<text y="594.6" font-size="20.8" fill="#fff"><tspan x="10.3" textLength="46.8" lengthAdjust="spacingAndGlyphs">most</tspan> <tspan x="63.5" textLength="54.6" lengthAdjust="spacingAndGlyphs">likely.</tspan></text>
</g>
<g id="bp2">
<rect x="292" y="401.5" width="601.5" height="274.5" fill="#2a2a2a"/>
<rect x="293" y="402" width="600" height="273.5" fill="url(#gridd)"/>
<rect x="293" y="402" width="600" height="273.5" fill="url(#gridD)"/>
<rect x="293" y="402" width="600" height="273.5" fill="url(#vig)" opacity="0.45"/>
<rect x="891.8" y="402" width="1.4" height="273.5" fill="#181818"/>
<rect x="298.5" y="406.4" width="585.5" height="21.3" fill="#222222"/>
<text x="305.2" y="423.8" font-size="13.8" font-weight="bold" textLength="381.7" lengthAdjust="spacingAndGlyphs" fill="#000" opacity="0.6">Should Possess the player if it overlaps with the collision box</text>
<text x="304.3" y="422.9" font-size="13.8" font-weight="bold" textLength="381.7" lengthAdjust="spacingAndGlyphs" fill="#f4f4f4">Should Possess the player if it overlaps with the collision box</text>
<rect x="298.5" y="668.6" width="588" height="3" fill="#1e1e1e" opacity="0.8"/>
<rect x="885.4" y="428" width="2" height="243.6" fill="#212121" opacity="0.75"/>
<rect x="296.8" y="428" width="1.6" height="242" fill="#222" opacity="0.6"/>
<path d="M877,668.2 L884.6,660.6 M879.3,668.2 L884.6,662.9 M881.6,668.2 L884.6,665.2 M883.6,668.2 L884.6,667.2" stroke="#d8d8d8" stroke-width="1.3"/>
<path d="M481,478 L563,476" fill="none" stroke="#fff" stroke-width="1.8" stroke-linecap="round"/>
<path d="M695,476 H776" fill="none" stroke="#fff" stroke-width="1.8" stroke-linecap="round"/>
<path d="M480.0,513.0 C521.5,513.0 521.5,494.0 563.0,494.0" fill="none" stroke="#0ea2ee" stroke-width="1.15" stroke-linecap="round"/>
<path d="M722.0,549.5 C754.4,549.5 743.6,494.0 776.0,494.0" fill="none" stroke="#0ea2ee" stroke-width="1.15" stroke-linecap="round"/>
<path d="M733.0,572.7 C758.8,572.7 750.2,511.0 776.0,511.0" fill="none" stroke="#0ea2ee" stroke-width="1.15" stroke-linecap="round"/>
<rect x="333.5" y="452.5" width="155.0" height="142.5" rx="4.5" fill="#000" opacity="0.55" filter="url(#blur2)"/>
<rect x="334.5" y="452.0" width="153.0" height="140.0" rx="3.5" fill="url(#bodyd)" stroke="#050805" stroke-width="1"/>
<path d="M335.2,466.0 V455.5 q0,-2.8 2.8,-2.8 H484.0 q2.8,0 2.8,2.8 V466.0 z" fill="url(#hred2)"/>
<path d="M335.2,466.0 V455.5 q0,-2.8 2.8,-2.8 H484.0 q2.8,0 2.8,2.8 V466.0 z" fill="url(#hfade)"/>
<path d="M338.0,453.2 H484.0" stroke="#fff" stroke-opacity="0.28" stroke-width="1"/>
<rect x="556.0" y="452.5" width="147.5" height="72.5" rx="4.5" fill="#000" opacity="0.55" filter="url(#blur2)"/>
<rect x="557.0" y="452.0" width="145.5" height="70.0" rx="3.5" fill="url(#bodyd)" stroke="#050805" stroke-width="1"/>
<path d="M557.7,465.0 V455.5 q0,-2.8 2.8,-2.8 H699.0 q2.8,0 2.8,2.8 V465.0 z" fill="url(#hteal)"/>
<path d="M557.7,465.0 V455.5 q0,-2.8 2.8,-2.8 H699.0 q2.8,0 2.8,2.8 V465.0 z" fill="url(#hfade)"/>
<path d="M560.5,453.2 H699.0" stroke="#fff" stroke-opacity="0.28" stroke-width="1"/>
<rect x="584.0" y="526.5" width="147.5" height="38.5" rx="4.5" fill="#000" opacity="0.55" filter="url(#blur2)"/>
<rect x="585.0" y="526.0" width="145.5" height="36.0" rx="3.5" fill="url(#bodyd)" stroke="#050805" stroke-width="1"/>
<path d="M585.7,539.5 V529.5 q0,-2.8 2.8,-2.8 H727.0 q2.8,0 2.8,2.8 V539.5 z" fill="url(#hgreen3)"/>
<path d="M585.7,539.5 V529.5 q0,-2.8 2.8,-2.8 H727.0 q2.8,0 2.8,2.8 V539.5 z" fill="url(#hfade)"/>
<path d="M588.5,527.2 H727.0" stroke="#fff" stroke-opacity="0.28" stroke-width="1"/>
<rect x="666.5" y="563.0" width="77.5" height="24.0" rx="11" fill="#000" opacity="0.55" filter="url(#blur2)"/>
<rect x="667.5" y="562.5" width="75.5" height="21.5" rx="10" fill="url(#pilld)" stroke="#0a0f08" stroke-width="1.2"/>
<path d="M677.5,563.8 H733.0" stroke="#fff" stroke-opacity="0.35" stroke-width="1"/>
<ellipse cx="705" cy="570.5" rx="34" ry="6.5" fill="url(#glowc)"/>
<rect x="769.0" y="443.5" width="98.0" height="80.5" rx="4.5" fill="#000" opacity="0.55" filter="url(#blur2)"/>
<rect x="770.0" y="443.0" width="96.0" height="78.0" rx="3.5" fill="url(#bodyd)" stroke="#050805" stroke-width="1"/>
<path d="M770.7,465.0 V446.5 q0,-2.8 2.8,-2.8 H862.5 q2.8,0 2.8,2.8 V465.0 z" fill="url(#hblue3)"/>
<path d="M770.7,465.0 V446.5 q0,-2.8 2.8,-2.8 H862.5 q2.8,0 2.8,2.8 V465.0 z" fill="url(#hfade)"/>
<path d="M773.5,444.2 H862.5" stroke="#fff" stroke-opacity="0.28" stroke-width="1"/>
<path d="M481,478 L563,476" fill="none" stroke="#fff" stroke-opacity="0.2" stroke-width="1.8" stroke-linecap="round"/>
<path d="M695,476 H776" fill="none" stroke="#fff" stroke-opacity="0.2" stroke-width="1.8" stroke-linecap="round"/>
<path d="M480.0,513.0 C521.5,513.0 521.5,494.0 563.0,494.0" fill="none" stroke="#0ea2ee" stroke-opacity="0.25" stroke-width="1.15" stroke-linecap="round"/>
<path d="M722.0,549.5 C754.4,549.5 743.6,494.0 776.0,494.0" fill="none" stroke="#0ea2ee" stroke-opacity="0.25" stroke-width="1.15" stroke-linecap="round"/>
<path d="M733.0,572.7 C758.8,572.7 750.2,511.0 776.0,511.0" fill="none" stroke="#0ea2ee" stroke-opacity="0.25" stroke-width="1.15" stroke-linecap="round"/>
<path d="M339.8,459.3 L344.0,455.1 L348.2,459.3 L344.0,463.5 z" fill="none" stroke="#fff" stroke-width="1.44" stroke-linejoin="round"/>
<path d="M344.4,457.1 L346.9,459.3 L344.4,461.5 z" fill="#fff"/>
<text x="351.0" y="462.3" font-size="8.4" font-weight="bold" textLength="117.0" lengthAdjust="spacingAndGlyphs" fill="#f2f2f2">On Component Begin Overlap (Box)</text>
<rect x="477.9" y="455.9" width="6.1" height="6.1" rx="1.5" fill="#120000" stroke="#ff2b3a" stroke-width="1.36"/>
<path d="M473.3,474.6 q0,-1 1,-1 h2.6 l4.0,4.0 l-4.0,4.0 h-2.6 q-1,0 -1,-1 z" fill="#fff"/>
<text x="469.0" y="498.8" font-size="8.3" text-anchor="end" textLength="74.0" lengthAdjust="spacingAndGlyphs" fill="#eee">Overlapped Component</text>
<path d="M478.7,494.6 l2.0,1.4 l-2.0,1.4 z" fill="#0ea2ee"/>
<circle cx="475.8" cy="496.0" r="2.7" fill="#0c0c0c" stroke="#0ea2ee" stroke-width="1.23"/>
<text x="469.0" y="515.8" font-size="8.3" text-anchor="end" textLength="35.5" lengthAdjust="spacingAndGlyphs" fill="#eee">Other Actor</text>
<path d="M478.7,511.6 l2.0,1.4 l-2.0,1.4 z" fill="#0ea2ee"/>
<circle cx="475.8" cy="513.0" r="3.3" fill="#0ea2ee"/>
<text x="469.0" y="533.1" font-size="8.3" text-anchor="end" textLength="37.5" lengthAdjust="spacingAndGlyphs" fill="#eee">Other Comp</text>
<path d="M478.7,528.9 l2.0,1.4 l-2.0,1.4 z" fill="#0ea2ee"/>
<circle cx="475.8" cy="530.3" r="2.7" fill="#0c0c0c" stroke="#0ea2ee" stroke-width="1.23"/>
<text x="469.0" y="550.3" font-size="8.3" text-anchor="end" textLength="54.0" lengthAdjust="spacingAndGlyphs" fill="#eee">Other Body Index</text>
<path d="M478.7,546.1 l2.0,1.4 l-2.0,1.4 z" fill="#1fd0a0"/>
<circle cx="475.8" cy="547.5" r="2.7" fill="#0c0c0c" stroke="#1fd0a0" stroke-width="1.23"/>
<text x="469.0" y="567.8" font-size="8.3" text-anchor="end" textLength="38.5" lengthAdjust="spacingAndGlyphs" fill="#eee">From Sweep</text>
<path d="M478.7,563.6 l2.0,1.4 l-2.0,1.4 z" fill="#8f0d0d"/>
<circle cx="475.8" cy="565.0" r="2.7" fill="#0c0c0c" stroke="#8f0d0d" stroke-width="1.23"/>
<text x="469.0" y="585.1" font-size="8.3" text-anchor="end" textLength="42.0" lengthAdjust="spacingAndGlyphs" fill="#eee">Sweep Result</text>
<path d="M478.7,580.9 l2.0,1.4 l-2.0,1.4 z" fill="#1553c4"/>
<circle cx="475.8" cy="582.3" r="2.7" fill="#0c0c0c" stroke="#1553c4" stroke-width="1.23"/>
<path d="M560.5,456 v4.6 M561,458.3 h3.2 M565.5,458.3 h4" stroke="#fff" stroke-width="1.2"/><path d="M568.2,455.6 l3,2.7 l-3,2.7z" fill="#fff"/><path d="M562.5,456.6 l2,1.7 l-2,1.7z" fill="#fff"/>
<text x="573.0" y="461.2" font-size="8.4" font-weight="bold" textLength="90.0" lengthAdjust="spacingAndGlyphs" fill="#f2f2f2">Cast To BP_CharacterBase</text>
<path d="M563.6,473.0 q0,-1 1,-1 h2.6 l4.0,4.0 l-4.0,4.0 h-2.6 q-1,0 -1,-1 z" fill="#fff"/>
<path d="M687.3,473.0 q0,-1 1,-1 h2.6 l4.0,4.0 l-4.0,4.0 h-2.6 q-1,0 -1,-1 z" fill="#fff"/>
<path d="M569.9,492.6 l2.1,1.4 l-2.1,1.4 z" fill="#0ea2ee"/>
<circle cx="567.0" cy="494.0" r="3.3" fill="#0ea2ee"/>
<text x="576.0" y="496.8" font-size="8.3" textLength="20.0" lengthAdjust="spacingAndGlyphs" fill="#eee">Object</text>
<text x="685.0" y="497.3" font-size="8.3" text-anchor="end" textLength="35.5" lengthAdjust="spacingAndGlyphs" fill="#eee">Cast Failed</text>
<path d="M688.2,491.9 q0,-1 1,-1 h2.3 l3.6,3.6 l-3.6,3.6 h-2.3 q-1,0 -1,-1 z" fill="none" stroke="#fff" stroke-width="0.86"/>
<text x="683.0" y="515.3" font-size="8.3" text-anchor="end" textLength="69.0" lengthAdjust="spacingAndGlyphs" fill="#eee">As BP Character Base</text>
<path d="M692.4,511.1 l2.0,1.4 l-2.0,1.4 z" fill="#0ea2ee"/>
<circle cx="689.5" cy="512.5" r="2.7" fill="#0c0c0c" stroke="#0ea2ee" stroke-width="1.23"/>
<text x="594.0" y="536.1" font-size="10" font-style="italic" font-weight="bold" font-family="'Liberation Serif', serif" text-anchor="middle" fill="#8fe07a">ƒ</text>
<text x="601.0" y="535.7" font-size="8.4" font-weight="bold" textLength="70.0" lengthAdjust="spacingAndGlyphs" fill="#f2f2f2">Get Player Controller</text>
<path d="M597.9,549.6 l2.0,1.4 l-2.0,1.4 z" fill="#1fd0a0"/>
<circle cx="595.0" cy="551.0" r="2.7" fill="#0c0c0c" stroke="#1fd0a0" stroke-width="1.23"/>
<text x="603.0" y="553.8" font-size="8.3" textLength="38.5" lengthAdjust="spacingAndGlyphs" fill="#eee">Player Index</text>
<rect x="644.5" y="545.5" width="10.0" height="10.0" fill="#0e120e" fill-opacity="0.5" stroke="#a8a8a8" stroke-width="1"/>
<text x="647.2" y="553.3" font-size="8.3" fill="#ddd">0</text>
<text x="712.0" y="552.3" font-size="8.3" text-anchor="end" textLength="41.0" lengthAdjust="spacingAndGlyphs" fill="#eee">Return Value</text>
<path d="M720.7,548.1 l2.1,1.4 l-2.1,1.4 z" fill="#0ea2ee"/>
<circle cx="717.8" cy="549.5" r="3.3" fill="#0ea2ee"/>
<text x="722.5" y="575.6" font-size="8.3" text-anchor="end" textLength="11.5" lengthAdjust="spacingAndGlyphs" fill="#eee">Self</text>
<path d="M731.9,571.3 l2.1,1.4 l-2.1,1.4 z" fill="#0ea2ee"/>
<circle cx="729.0" cy="572.7" r="3.3" fill="#0ea2ee"/>
<text x="779.5" y="452.9" font-size="10" font-style="italic" font-weight="bold" font-family="'Liberation Serif', serif" text-anchor="middle" fill="#7cc4f0">ƒ</text>
<text x="786.0" y="452.3" font-size="8.4" font-weight="bold" textLength="29.0" lengthAdjust="spacingAndGlyphs" fill="#f2f2f2">Possess</text>
<text x="786.0" y="462.0" font-size="8" font-style="italic" textLength="60.0" lengthAdjust="spacingAndGlyphs" fill="#9fb38a">Target is Controller</text>
<path d="M776.3,473.0 q0,-1 1,-1 h2.6 l4.0,4.0 l-4.0,4.0 h-2.6 q-1,0 -1,-1 z" fill="#fff"/>
<path d="M850.5,473.2 q0,-1 1,-1 h2.4 l3.8,3.8 l-3.8,3.8 h-2.4 q-1,0 -1,-1 z" fill="none" stroke="#fff" stroke-width="0.90"/>
<path d="M783.2,492.6 l2.1,1.4 l-2.1,1.4 z" fill="#0ea2ee"/>
<circle cx="780.3" cy="494.0" r="3.3" fill="#0ea2ee"/>
<text x="789.0" y="496.8" font-size="8.3" textLength="20.5" lengthAdjust="spacingAndGlyphs" fill="#eee">Target</text>
<path d="M783.2,509.6 l2.1,1.4 l-2.1,1.4 z" fill="#0ea2ee"/>
<circle cx="780.3" cy="511.0" r="3.3" fill="#0ea2ee"/>
<text x="789.0" y="513.8" font-size="8.3" textLength="25.5" lengthAdjust="spacingAndGlyphs" fill="#eee">In Pawn</text>
<g id="servericon"><path d="M862.2,438.5 L866.5,434.7 L872.6,436.5 L872.6,446.5 L868.8,451.4 L862.2,448.5 z" fill="#0a0a0a" stroke="#0a0a0a" stroke-width="1.6" stroke-linejoin="round"/><path d="M862.2,438.5 L868.8,441 L868.8,451.4 L862.2,448.5 z" fill="#ffffff"/><path d="M862.2,438.5 L866.5,434.7 L872.6,436.5 L868.8,441 z" fill="#ffffff"/><path d="M868.8,441 L872.6,436.5 L872.6,446.5 L868.8,451.4 z" fill="#dcdcdc"/><path d="M863.3,441.2 l4.4,1.6 M863.3,444.6 l4.4,1.6" stroke="#c8c8c8" stroke-width="0.7"/><path d="M859.6,436.3 L856.8,442.2 L858.8,442.2 L857.2,447.8 L861.2,440.6 L859.3,440.6 L860.9,436.3 z" fill="#fff" stroke="#0a0a0a" stroke-width="0.5"/></g>
<rect x="292.3" y="401.7" width="601.2" height="274.2" fill="none" stroke="#ffff00" stroke-width="1.1"/>
</g>
<g id="rightbox">
<rect x="915.4" y="455.4" width="355.6" height="212.9" fill="none" stroke="#ee0000" stroke-width="1.3"/>
<text y="481.7" font-size="20.8" fill="#fff"><tspan x="925.3" textLength="67.9" lengthAdjust="spacingAndGlyphs">Mouse</tspan> <tspan x="998.5" textLength="52.4" lengthAdjust="spacingAndGlyphs">Trace</tspan> <tspan x="1054.7" textLength="15.3" lengthAdjust="spacingAndGlyphs">is</tspan> <tspan x="1075.0" textLength="11.9" lengthAdjust="spacingAndGlyphs">a</tspan> <tspan x="1091.8" textLength="73.0" lengthAdjust="spacingAndGlyphs">custom</tspan></text>
<text y="510.6" font-size="20.8" fill="#fff"><tspan x="925.3" textLength="55.8" lengthAdjust="spacingAndGlyphs">event</tspan> <tspan x="984.4" textLength="41.2" lengthAdjust="spacingAndGlyphs">that</tspan> <tspan x="1030.8" textLength="66.5" lengthAdjust="spacingAndGlyphs">carries</tspan> <tspan x="1102.0" textLength="31.8" lengthAdjust="spacingAndGlyphs">out</tspan> <tspan x="1140.5" textLength="32.7" lengthAdjust="spacingAndGlyphs">the</tspan> <tspan x="1177.9" textLength="82.5" lengthAdjust="spacingAndGlyphs">function</tspan></text>
<text y="539.5" font-size="20.8" fill="#fff"><tspan x="925.3" textLength="20.1" lengthAdjust="spacingAndGlyphs">of</tspan> <tspan x="950.1" textLength="83.9" lengthAdjust="spacingAndGlyphs">Rotating</tspan> <tspan x="1038.4" textLength="32.7" lengthAdjust="spacingAndGlyphs">the</tspan> <tspan x="1076.4" textLength="67.8" lengthAdjust="spacingAndGlyphs">muzzle</tspan> <tspan x="1149.8" textLength="20.0" lengthAdjust="spacingAndGlyphs">of</tspan> <tspan x="1174.2" textLength="33.3" lengthAdjust="spacingAndGlyphs">the</tspan></text>
<text y="568.3" font-size="20.8" fill="#fff"><tspan x="925.3" textLength="57.2" lengthAdjust="spacingAndGlyphs">turret</tspan> <tspan x="988.6" textLength="57.2" lengthAdjust="spacingAndGlyphs">based</tspan> <tspan x="1051.3" textLength="30.0" lengthAdjust="spacingAndGlyphs">Off</tspan> <tspan x="1087.1" textLength="62.2" lengthAdjust="spacingAndGlyphs">player</tspan> <tspan x="1152.6" textLength="65.6" lengthAdjust="spacingAndGlyphs">mouse</tspan></text>
<text y="597.2" font-size="20.8" fill="#fff"><tspan x="925.3" textLength="80.0" lengthAdjust="spacingAndGlyphs">location</tspan></text>
<text y="655.0" font-size="20.8" fill="#fff"><tspan x="925.3" textLength="33.3" lengthAdjust="spacingAndGlyphs">(BP</tspan> <tspan x="963.3" textLength="34.2" lengthAdjust="spacingAndGlyphs">will</tspan> <tspan x="1002.1" textLength="24.9" lengthAdjust="spacingAndGlyphs">be</tspan> <tspan x="1032.2" textLength="63.7" lengthAdjust="spacingAndGlyphs">shown</tspan> <tspan x="1101.1" textLength="70.1" lengthAdjust="spacingAndGlyphs">ahead)</tspan></text>
</g>
</svg></body></html>
